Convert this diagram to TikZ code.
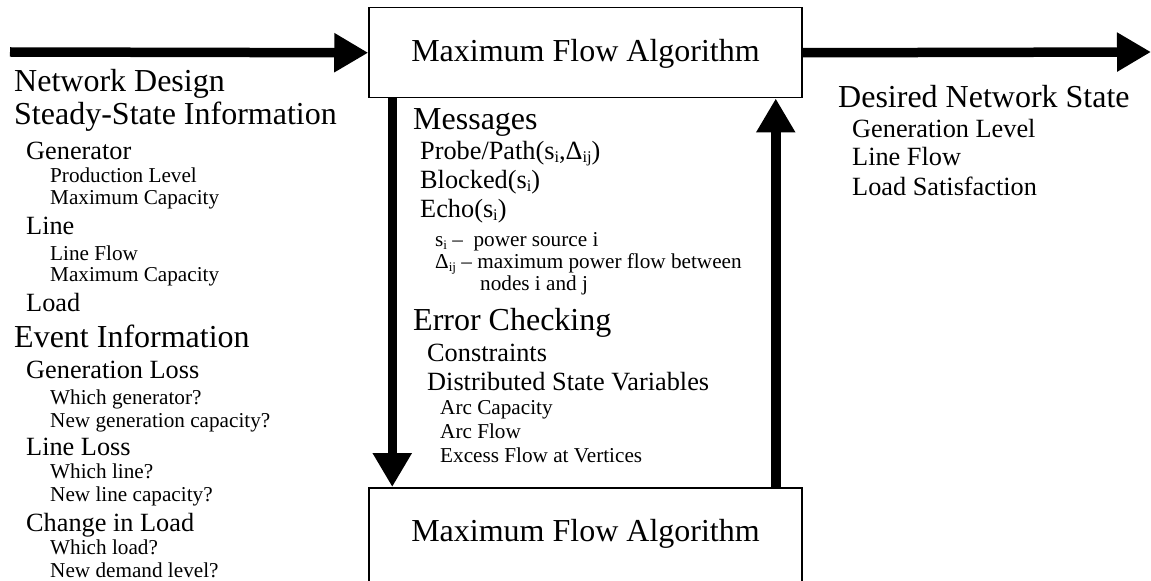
\documentclass[tikz,border=0pt]{standalone}
\usepackage{fontspec}
\setmainfont{Liberation Serif}
\usetikzlibrary{arrows.meta}
\newcommand{\subs}[1]{\raisebox{-0.22ex}{\fontsize{0.62em}{0.7em}\selectfont #1}}
\begin{document}
\begin{tikzpicture}[x=1bp,y=-1bp,
    txt/.style={anchor=base west,inner sep=0pt},
    big/.style={txt,font=\fontsize{32bp}{36bp}\selectfont},
    mid/.style={txt,font=\fontsize{26.3bp}{30bp}\selectfont},
    sml/.style={txt,font=\fontsize{21.2bp}{24bp}\selectfont},
    algbox/.style={draw,line width=1.5bp,minimum width=433bp,inner sep=0pt,anchor=north,
      text height=54bp,font=\fontsize{32bp}{36bp}\selectfont},
    flow/.style={line width=9.5bp,-{Triangle[length=34bp,width=37bp]}}]
    \useasboundingbox (0,0) rectangle (1151,581);
    \node[algbox,text depth=36bp] (top) at (585.5,7) {Maximum Flow Algorithm};
    \node[algbox,text depth=57bp] (bot) at (585.5,487) {Maximum Flow Algorithm};
    \coordinate (inl) at (10,52);
    \coordinate (outr) at (1151,52);
    \draw[flow] (inl) -- (top.west);
    \draw[flow] (top.east) -- (outr);
    \draw[flow] ([xshift=24bp]top.south west) -- ([xshift=24bp]bot.north west);
    \draw[flow] ([xshift=-27bp]bot.north east) -- ([xshift=-27bp]top.south east);
    % input
    \node[big] (nd) at (14,92) {Network Design};
    \node[big] (ssi) at (14,125) {Steady-State Information};
    \node[mid] (gen) at (26,160) {Generator};
    \node[sml] (genpl) at (50,183) {Production Level};
    \node[sml] (genmc) at (50,205) {Maximum Capacity};
    \node[mid] (line) at (26,235) {Line};
    \node[sml] (linelf) at (50,261) {Line Flow};
    \node[sml] (linemc) at (50,282) {Maximum Capacity};
    \node[mid] (load) at (26,312) {Load};
    \node[big] (evt) at (14,347) {Event Information};
    \node[mid] (gloss) at (26,378) {Generation Loss};
    \node[sml] (glwhich) at (50,404) {Which generator?};
    \node[sml] (glnew) at (50,427) {New generation capacity?};
    \node[mid] (lloss) at (26,455) {Line Loss};
    \node[sml] (llwhich) at (50,478) {Which line?};
    \node[sml] (llnew) at (50,501) {New line capacity?};
    \node[mid] (chg) at (26,531) {Change in Load};
    \node[sml] (chwhich) at (50,554) {Which load?};
    \node[sml] (chnew) at (50,577) {New demand level?};
    % messages
    \node[big] (msg) at (413,130) {Messages};
    \node[mid] (probe) at (420,160) {Probe/Path(s\subs{i},Δ\subs{ij})};
    \node[mid] (blocked) at (420,189) {Blocked(s\subs{i})};
    \node[mid] (echo) at (420,218) {Echo(s\subs{i})};
    \node[sml] (keys) at (435,247) {s\subs{i} --\ \ power source i};
    \node[sml] (keyd) at (435,269) {Δ\subs{ij} -- maximum power flow between};
    \node[sml] (keyd2) at (480,291) {nodes i and j};
    \node[big] (err) at (413,331) {Error Checking};
    \node[mid] (cons) at (427,361) {Constraints};
    \node[mid] (dsv) at (427,390) {Distributed State Variables};
    \node[sml] (arccap) at (440,414) {Arc Capacity};
    \node[sml] (arcflow) at (440,438) {Arc Flow};
    \node[sml] (excess) at (440,462) {Excess Flow at Vertices};
    % output
    \node[big] (dns) at (838,108) {Desired Network State};
    \node[mid] (dgen) at (852,138) {Generation Level};
    \node[mid] (dline) at (852,166) {Line Flow};
    \node[mid] (dload) at (852,196) {Load Satisfaction};
\end{tikzpicture}
\end{document}
